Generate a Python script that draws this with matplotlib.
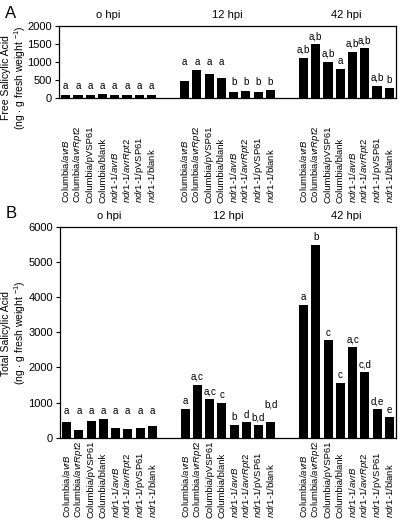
import matplotlib
matplotlib.use("Agg")
import matplotlib.pyplot as plt
import matplotlib.transforms as mtransforms
import numpy as np

plt.rcParams['font.family'] = ['Liberation Sans', 'DejaVu Sans']
plt.rcParams['mathtext.fontset'] = 'custom'
plt.rcParams['mathtext.rm'] = 'Liberation Sans'
plt.rcParams['mathtext.it'] = 'Liberation Sans:italic'

# data
groups = ["o hpi", "12 hpi", "42 hpi"]
labels = [r"Columbia/$\mathit{avrB}$", r"Columbia/$\mathit{avrRpt2}$",
          "Columbia/pVSP61", "Columbia/blank",
          r"$\mathit{ndr1}$-$\mathit{1}$/$\mathit{avrB}$",
          r"$\mathit{ndr1}$-$\mathit{1}$/$\mathit{avrRpt2}$",
          r"$\mathit{ndr1}$-$\mathit{1}$/pVSP61",
          r"$\mathit{ndr1}$-$\mathit{1}$/blank"]

free_0 = [90, 70, 80, 110, 80, 80, 70, 80]
free_12 = [480, 790, 660, 550, 160, 185, 160, 215]
free_42 = [1120, 1500, 1010, 800, 1290, 1390, 340, 290]
free_let = [["a"] * 8,
            ["a", "a", "a", "a", "b", "b", "b", "b"],
            ["a,b", "a,b", "a,b", "a", "a,b", "a,b", "a,b", "b"]]

tot_0 = [440, 225, 470, 525, 280, 250, 285, 330]
tot_12 = [830, 1510, 1090, 990, 365, 435, 365, 435]
tot_42 = [3780, 5500, 2770, 1570, 2580, 1870, 820, 580]
tot_let = [["a"] * 8,
           ["a", "a,c", "a,c", "c", "b", "d", "b,d", "b,d"],
           ["a", "b", "c", "c", "a,c", "c,d", "d,e", "e"]]

# bars whose letters share one height
free_share = [[list(range(8))], [[0, 1, 2, 3], [4, 5, 6, 7]], []]
tot_share = [[list(range(8))], [], []]
# extra lift (points) for a few crowded letters: (group, bar) -> pt
free_lift = {}
tot_lift = {(1, 7): 7}

gap = 9.7
xs = np.array([g * gap + i for g in range(3) for i in range(8)])

fig = plt.figure(figsize=(4, 5.3), dpi=100)
axA = fig.add_axes([59 / 400, 1 - 98 / 530, 337 / 400, 72 / 530])
axB = fig.add_axes([60 / 400, 1 - 437.7 / 530, 336 / 400, 210.7 / 530])


def panel(ax, vals, lets, share, lift, ymax, step, ylab, ylab_y, lab_y, letter, let_y):
    top_tr = mtransforms.blended_transform_factory(ax.transData, ax.transAxes)
    for g in range(3):
        xg = xs[g * 8:(g + 1) * 8]
        ax.bar(xg, vals[g], width=0.74, color='black')
        tops = list(vals[g])
        for idx in share[g]:
            m = max(vals[g][k] for k in idx)
            for k in idx:
                tops[k] = m
        for k in range(8):
            ax.annotate(lets[g][k], (xg[k], tops[k]),
                        xytext=(0, 2 + lift.get((g, k), 0)),
                        textcoords='offset points', ha='center', va='bottom',
                        fontsize=7)
        ax.annotate(groups[g], (xg.mean(), 1), xycoords=top_tr,
                    xytext=(0, 4), textcoords='offset points',
                    ha='center', va='bottom', fontsize=8)
    ax.set_xlim(-0.55, 2 * gap + 7.55)
    ax.set_ylim(0, ymax)
    ax.set_yticks(np.arange(0, ymax + 1, step))
    ax.set_xticks([])
    ax.tick_params(axis='y', direction='out', length=3, labelsize=8, width=0.8, pad=2)
    for s in ax.spines.values():
        s.set_linewidth(0.9)
    fig.text(14.5 / 400, ylab_y, ylab, rotation=90, ha='center', va='center',
             fontsize=7.5, linespacing=1.15, multialignment='center')
    tr = mtransforms.blended_transform_factory(ax.transData, fig.transFigure)
    for i, x in enumerate(xs):
        ax.text(x, lab_y, labels[i % 8], transform=tr, rotation=90,
                ha='center', va='bottom', fontsize=6.8)
    fig.text(11 / 400, let_y, letter, fontsize=12, ha='center', va='center')


panel(axA, [free_0, free_12, free_42], free_let, free_share, free_lift, 2000, 500,
      "Free Salicylic Acid\n(ng $\\bullet$ g fresh weight $^{-1}$)", 1 - 78 / 530,
      1 - 203 / 530, "A", 1 - 14 / 530)
panel(axB, [tot_0, tot_12, tot_42], tot_let, tot_share, tot_lift, 6000, 1000,
      "Total Salicylic Acid\n(ng $\\bullet$ g fresh weight $^{-1}$)", 1 - 333 / 530,
      1 - 518 / 530, "B", 1 - 214 / 530)

fig.savefig("out.png", dpi=100)
